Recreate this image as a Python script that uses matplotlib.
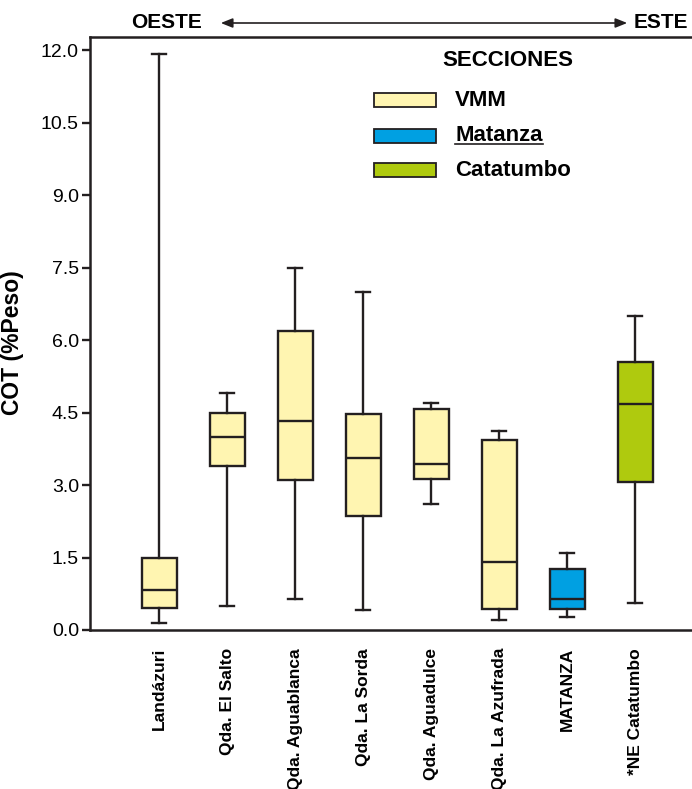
import matplotlib
matplotlib.use("Agg")
import matplotlib.pyplot as plt
from matplotlib.patches import Rectangle, FancyArrowPatch
from matplotlib.lines import Line2D

plt.rcParams["font.family"] = ["Liberation Sans", "DejaVu Sans"]

# sections, west to east
sites = ["Landázuri", "Qda. El Salto", "Qda. Aguablanca", "Qda. La Sorda",
         "Qda. Aguadulce", "Qda. La Azufrada", "MATANZA", "*NE Catatumbo"]
section = ["VMM", "VMM", "VMM", "VMM", "VMM", "VMM", "Matanza", "Catatumbo"]

# box statistics (COT, % peso)
whis_lo = [0.14, 0.50, 0.64, 0.41, 2.60, 0.21, 0.27, 0.56]
q1 = [0.45, 3.39, 3.10, 2.36, 3.12, 0.43, 0.43, 3.06]
median = [0.83, 3.99, 4.32, 3.55, 3.43, 1.41, 0.64, 4.67]
q3 = [1.49, 4.50, 6.18, 4.46, 4.57, 3.93, 1.26, 5.54]
whis_hi = [11.92, 4.90, 7.48, 7.00, 4.69, 4.11, 1.59, 6.49]

yticks = [0.0, 1.5, 3.0, 4.5, 6.0, 7.5, 9.0, 10.5, 12.0]

colors = {"VMM": "#FFF5B1", "Matanza": "#00A0E2", "Catatumbo": "#AFCA0E"}
EDGE = "#231F20"

W, H = 692, 789
fig = plt.figure(figsize=(W / 100, H / 100), dpi=100)
ax = fig.add_axes([90 / W, 1 - 630 / H, 602 / W, 593 / H])

stats = []
for i, name in enumerate(sites):
    stats.append({"label": name, "whislo": whis_lo[i], "q1": q1[i], "med": median[i],
                  "q3": q3[i], "whishi": whis_hi[i], "fliers": []})

positions = list(range(1, len(sites) + 1))
bp = ax.bxp(stats, positions=positions, widths=0.515, capwidths=0.21,
            patch_artist=True, showfliers=False,
            boxprops=dict(edgecolor=EDGE, linewidth=1.7),
            medianprops=dict(color=EDGE, linewidth=1.7),
            whiskerprops=dict(color=EDGE, linewidth=1.7),
            capprops=dict(color=EDGE, linewidth=1.7))
for patch, sec in zip(bp["boxes"], section):
    patch.set_facecolor(colors[sec])

ax.set_xlim(-0.015, 8.838)
ax.set_ylim(0, 12.27)
ax.set_yticks(yticks)
ax.set_yticklabels([f"{v:.1f}" for v in yticks], fontsize=14)
ax.set_xticks(positions)
ax.set_xticklabels(sites, rotation=90, fontsize=12.5, fontweight="bold", va="top")
ax.tick_params(axis="x", length=0, pad=13)
ax.tick_params(axis="y", length=6, width=1.7, pad=2, color=EDGE)
ax.spines["right"].set_visible(False)
for s in ["left", "top", "bottom"]:
    ax.spines[s].set_linewidth(1.8)
    ax.spines[s].set_color(EDGE)
ax.set_ylabel("COT (%Peso)", fontsize=16.5, fontweight="bold")
ax.yaxis.set_label_coords(-0.11, 0.484)

# OESTE <-> ESTE header
fig.text(166 / W, 1 - 23 / H, "OESTE", ha="center", va="center",
         fontsize=15, fontweight="bold")
fig.text(661 / W, 1 - 23 / H, "ESTE", ha="center", va="center",
         fontsize=15, fontweight="bold")
fig.add_artist(FancyArrowPatch(
    (218 / W, 1 - 23 / H), (630 / W, 1 - 23 / H),
    transform=fig.transFigure, arrowstyle="<|-|>,head_length=7,head_width=2.8",
    color=EDGE, linewidth=1.2))

# legend
fig.text(508 / W, 1 - 61 / H, "SECCIONES", ha="center", va="center",
         fontsize=16, fontweight="bold")
for sec, yc in zip(["VMM", "Matanza", "Catatumbo"], [100, 135.5, 170]):
    fig.add_artist(Rectangle((374 / W, 1 - (yc + 7) / H), 62 / W, 14 / H,
                             transform=fig.transFigure, facecolor=colors[sec],
                             edgecolor=EDGE, linewidth=1.3))
    fig.text(455 / W, 1 - yc / H, sec, ha="left", va="center",
             fontsize=16, fontweight="bold")
# "Matanza" is underlined in the original
fig.add_artist(Line2D([455 / W, 543 / W], [1 - 144 / H, 1 - 144 / H],
                      transform=fig.transFigure, color=EDGE, linewidth=1.2))

fig.savefig("out.png", dpi=100)
